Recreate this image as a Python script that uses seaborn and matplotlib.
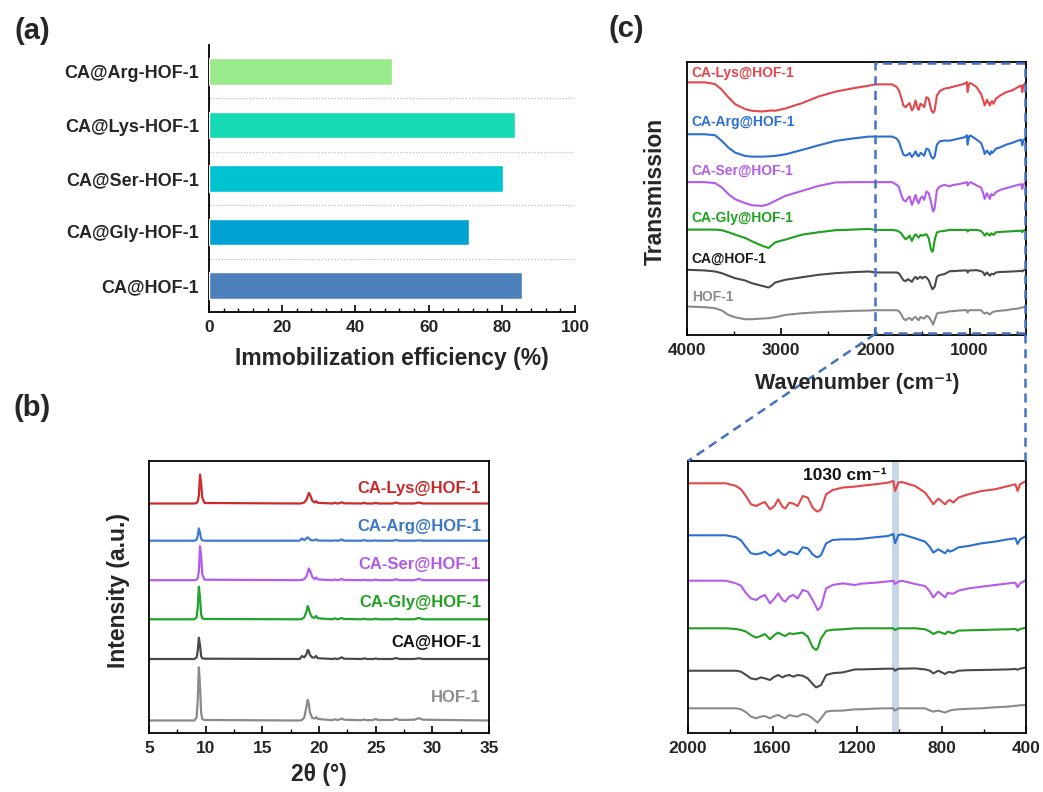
import numpy as np
import pandas as pd
import matplotlib
matplotlib.use("Agg")
import matplotlib.pyplot as plt
import seaborn as sns
from matplotlib.ticker import MultipleLocator, FixedLocator, NullLocator
from matplotlib.patches import Rectangle
from matplotlib.lines import Line2D

# ---------------- data: panel (a) ----------------
samples_a = ["CA@Arg-HOF-1", "CA@Lys-HOF-1", "CA@Ser-HOF-1", "CA@Gly-HOF-1", "CA@HOF-1"]
efficiency = [50.0, 83.5, 80.3, 71.0, 85.5]

# ---------------- data: panel (b) XRD ----------------
series_names = ["CA-Lys@HOF-1", "CA-Arg@HOF-1", "CA-Ser@HOF-1", "CA-Gly@HOF-1", "CA@HOF-1", "HOF-1"]
two_theta = [5, 9.0, 9.2, 9.3, 9.4, 9.5, 9.6, 9.7, 9.9,
             18.3, 18.5, 18.7, 18.9, 19.0, 19.1, 19.2, 19.4, 19.6, 19.75, 19.9,
             21.2, 21.4, 21.6, 21.8, 22.0, 22.2,
             23.8, 24.0, 24.2, 24.8, 25.0, 25.2, 26.5, 26.8, 27.1, 28.4, 28.8, 29.2, 35]
xrd_lys = [0, 0, 0.5, 2, 8, 29, 20, 6, 0.5,
           0, 0.3, 1, 4, 7, 10.5, 9, 3, 1, 2.3, 0.7,
           0, 0.8, 0, 0.3, 1.3, 0.2,
           0, 0.7, 0, 0, 0.7, 0, 0, 1, 0, 0, 1, 0, 0]
xrd_arg = [0, 0, 1, 5, 12.3, 8, 2, 0.5, 0,
           0, 2.3, 0.5, 2.5, 3.3, 2.5, 1, 0.3, 0.5, 1.3, 0.2,
           0, 0.3, 0, 0.2, 1.3, 0,
           0, 0.7, 0, 0, 0.3, 0, 0, 0.7, 0, 0, 0.3, 0, 0]
xrd_ser = [0, 0, 0.5, 2, 9, 34, 24, 6, 0.5,
           0, 0.3, 1, 4, 7.5, 11.7, 10, 3.5, 1, 2.7, 0.8,
           0, 0.7, 0, 0.3, 1.3, 0.2,
           0, 0.5, 0, 0, 0.7, 0, 0, 1, 0, 0, 1.3, 0, 0]
xrd_gly = [0, 0, 2, 12, 32.6, 22, 5, 1, 0.3,
           0, 0.3, 2, 8, 13.3, 11, 6, 2, 1.5, 3.3, 1,
           0, 1, 0, 0.5, 1.3, 0.3,
           0, 0.7, 0, 0, 0.7, 0, 0, 0.7, 0, 0, 1.3, 0, 0]
xrd_ca = [0, 0, 1.5, 8, 21.3, 14, 3, 0.7, 0.3,
          0, 3, 1.5, 5, 9, 8, 4, 1.5, 1.5, 3, 0.8,
          0, 0.5, 0, 0.5, 1.7, 0.3,
          0, 0.7, 0, 0, 0.5, 0, 0, 1, 0, 0, 0.7, 0, 0]
xrd_hof = [0, 0, 3, 20, 53.3, 35, 8, 1.5, 0.5,
           0, 0.5, 3, 14, 20.7, 17, 8, 2.5, 2, 3.3, 1.5,
           0.3, 1.3, 0.5, 1, 2, 0.8,
           0.3, 1, 0.3, 0.5, 1.7, 0.5, 0.5, 2, 0.5, 0.8, 2.3, 0.8, 0]

# ---------------- data: panel (c) FTIR ----------------
wavenumber = [4000, 3808, 3702, 3630, 3560, 3489, 3382, 3311, 3204, 3134, 3105, 3063, 2956, 2778, 2601, 2424, 2246, 2069,
              2000, 1915, 1820, 1773, 1749, 1725, 1702, 1678, 1655, 1636,
              1612, 1591, 1573, 1552, 1540, 1520, 1502, 1481, 1457, 1433,
              1410, 1394, 1386, 1370, 1346, 1315, 1268, 1209, 1181, 1115,
              1052, 1028, 1020, 1004, 988, 925, 878, 854, 839, 815,
              783, 770, 760, 744, 720, 673, 610, 547, 484, 450,
              440, 428, 400]
ftir_lys = [2, 2, 0.3, -5.3, -13, -19.7, -24.7, -26.3, -27, -26.3, -26, -26.3, -24, -18.7, -12, -7.3, -4, -1.3,
            0, 0, 0, -2.7, -6, -13, -21, -22.7, -20.3, -18.7,
            -26, -22.7, -16, -23.7, -25.3, -19.3, -20.3, -22.7, -12.7, -14.3,
            -24.3, -27.5, -28.3, -26, -11, -6.7, -4.3, -3.3, -2.5, -1,
            0.7, 2.3, -7.7, 0.7, 1.3, -2.7, -9.3, -16, -21, -15.3,
            -21, -17.7, -16.7, -19.3, -14.3, -11, -7.7, -6, -2.7, -1,
            -7.7, -1, 2.3]
ftir_arg = [2.3, 2.3, 1.3, -4.3, -11, -16, -19.3, -20, -20, -19.7, -19.5, -19.3, -17.7, -13.3, -8.7, -4.3, -2, 0,
            0, 0, 0, -2, -5, -12, -18, -19, -18, -16.3,
            -20.3, -18, -14.7, -19, -19.7, -16.3, -17.3, -19, -12, -13,
            -19, -21.5, -22, -19.7, -8, -4.7, -4, -4, -3.5, -2,
            -0.7, 1.3, -8, 0.3, 1, -3, -6.3, -12, -17.3, -14,
            -18, -14.7, -16.3, -15, -12, -10.7, -8, -6.3, -4, -3,
            -8.7, -4, -0.7]
ftir_ser = [0, 0, -1, -5.3, -12, -17, -21, -23, -23.7, -22, -20.5, -18.7, -13.7, -8.7, -3.7, -0.3, 0, 0,
            0, 0, 0, -2.7, -5, -12.7, -17.7, -19.3, -16, -14.3,
            -22.7, -17.7, -12.7, -19.3, -21, -16, -14.3, -17.7, -9.3, -11,
            -19.3, -26, -29.3, -26, -7.7, -4.3, -2.7, -4.3, -3, -2,
            -0.7, 0, -3.3, -1, 0, -3.3, -5.3, -11, -16.7, -11,
            -16.7, -12, -12.7, -13, -10, -7.7, -6, -4.3, -2.7, -2,
            -6.7, -2.7, 0.7]
ftir_gly = [0.3, 0.3, 0.3, -0.3, -2.3, -4.7, -8, -11.3, -15.7, -18, -15.7, -12.3, -9.7, -4.7, -2.3, -0.3, 0.3, 1,
            0, 0, 0, -0.7, -1.7, -3.3, -6.7, -9.3, -7.7, -5.7,
            -11, -6.7, -4.3, -6.7, -7.7, -5, -5.7, -5, -4.3, -8.3,
            -19, -21.7, -20, -10, -2.5, -1.5, -1, 0, 0, 0,
            0, 0, -1.7, 0, 0, 0, -1, -3.3, -5.7, -3.3,
            -5.7, -3.3, -4, -5, -2.3, -2, -1.7, -1.3, -1, -0.7,
            -2.3, -0.7, 0.7]
ftir_ca = [2.7, 2, 1, -0.7, -3.3, -5.7, -8, -10.7, -13.3, -15, -13.3, -10, -7.3, -4.7, -2.3, -0.7, 0.3, 1,
           0, 0, 0, 0, -1, -4.3, -7.7, -8.7, -6.7, -7.7,
           -9.3, -6, -4.3, -6.7, -5.3, -4.3, -6, -4.3, -5, -7.7,
           -13.3, -16.7, -16, -14.3, -4.3, -2.5, -1.7, 1.3, 1.3, 1.7,
           2, 2, 0, 2, 2, 2.3, 1.3, 0, -2.7, 0,
           -3.3, -1.5, -1.3, -2, 0, 0.5, 0.7, 1, 1.3, 1.7,
           1, 2, 3.3]
ftir_hof = [3.7, 3, 2, -0.3, -4.7, -7, -9, -9, -8.3, -8, -7.5, -7, -4.7, -3, -2, -1.3, -0.7, -0.3,
            0, 0, 0, 0, -1, -4, -8.3, -10, -8.3, -7.7,
            -10, -7.7, -6.7, -9, -10, -6.7, -7.7, -8.3, -5.7, -6.7,
            -10, -13, -14.3, -10, -3.3, -2.5, -2.3, -1, -1, -0.3,
            0, 0, -2.3, 0, 0, 0, 0, -2.3, -3.3, -2.3,
            -4.3, -3, -2.3, -1.5, -1, -0.5, 0, 1, 1.7, 2.5,
            2.7, 3, 3.3]
band_lo, band_hi = 1001, 1035
band_label = "1030 cm\u207b\u00b9"

# ---------------- styling ----------------
sns.set_theme(style="white")
plt.rcParams["font.family"] = ["Liberation Sans", "DejaVu Sans"]
plt.rcParams["font.weight"] = "bold"
plt.rcParams["axes.labelweight"] = "bold"

bar_colors = ["#98EA8A", "#16DAB4", "#00C3D2", "#00A3D3", "#4E80BD"]
xrd_colors = ["#CC2B2B", "#3F7BD0", "#B45CEC", "#22A32A", "#4A4A4A", "#8A8A8A"]
xrd_label_colors = ["#C82A2A", "#3A78C8", "#B45AE8", "#22A022", "#111111", "#8C8C8C"]
ir_colors = ["#E2474B", "#2C6FD1", "#B45CEA", "#1EA01E", "#4A4A4A", "#8A8A8A"]
ir_label_colors = ["#E0474C", "#2C6FD1", "#B45CEA", "#1EA01E", "#1A1A1A", "#8C8C8C"]
xrd_offsets = [229.5, 192.3, 152.8, 113.7, 74.0, 12.5]
ir_offsets = [249.7, 197.7, 152.3, 104.7, 62.3, 24.7]
xrd_label_y = [245, 206, 168, 130, 91, 35]
ir_label_y = [261, 212, 164, 117, 76, 38]
dash_blue = "#4472C4"

W, H = 1043, 792
fig = plt.figure(figsize=(W / 100, H / 100), dpi=100)


def px_axes(l, t, r, b):
    return fig.add_axes([l / W, 1 - b / H, (r - l) / W, (b - t) / H])


def fig_xy(x, y):
    return x / W, 1 - y / H


TICK_FS = 12.5
LABEL_FS = 16.5

# ---------------- panel (a) ----------------
axA = px_axes(209, 45, 575, 312)
sns.barplot(x=efficiency, y=samples_a, hue=samples_a, palette=bar_colors, legend=False,
            orient="h", width=0.5, saturation=1, ax=axA, zorder=3)
axA.set_xlim(0, 100)
axA.set_ylim(4.5, -0.5)
axA.set_xlabel("")
axA.set_ylabel("")
axA.xaxis.set_major_locator(MultipleLocator(20))
axA.xaxis.set_minor_locator(MultipleLocator(4))
axA.yaxis.set_minor_locator(FixedLocator([0.5, 1.5, 2.5, 3.5]))
axA.grid(False)
axA.grid(axis="y", which="minor", ls=(0, (1, 1.5)), color="#BFBFBF", lw=0.9)
axA.set_axisbelow(True)
for s in ["top", "right"]:
    axA.spines[s].set_visible(False)
for s in ["left", "bottom"]:
    axA.spines[s].set_color("black")
    axA.spines[s].set_linewidth(1.3)
axA.tick_params(axis="x", which="major", direction="in", length=5, width=1.2, color="black",
                labelsize=TICK_FS, pad=6, bottom=True)
axA.tick_params(axis="x", which="minor", direction="in", length=3, width=1.0, color="black", bottom=True)
axA.tick_params(axis="y", which="both", length=0, labelsize=13, pad=7)
for lab in axA.get_xticklabels() + axA.get_yticklabels():
    lab.set_fontweight("bold")
fig.text(*fig_xy(392, 358), "Immobilization efficiency (%)", ha="center", va="center",
         fontsize=LABEL_FS, fontweight="bold")

# ---------------- panel (b) ----------------
axB = px_axes(149, 461, 489, 733)
xrd_series = [xrd_lys, xrd_arg, xrd_ser, xrd_gly, xrd_ca, xrd_hof]
for vals, off, col in zip(xrd_series, xrd_offsets, xrd_colors):
    sns.lineplot(x=two_theta, y=np.asarray(vals) + off, color=col, lw=1.6, ax=axB, estimator=None)
for name, ly, col in zip(series_names, xrd_label_y, xrd_label_colors):
    axB.text(34.3, ly, name, ha="right", va="center", color=col, fontsize=12, fontweight="bold")
axB.set_xlim(5, 35)
axB.set_ylim(0, 272)
axB.xaxis.set_major_locator(MultipleLocator(5))
axB.xaxis.set_minor_locator(MultipleLocator(2.5))
axB.yaxis.set_major_locator(NullLocator())
axB.grid(False)
for s in axB.spines.values():
    s.set_color("black")
    s.set_linewidth(1.3)
axB.tick_params(axis="x", which="major", direction="in", length=5, width=1.2, labelsize=TICK_FS, pad=6,
                bottom=True, color="black")
axB.tick_params(axis="x", which="minor", direction="in", length=3, width=1.0, bottom=True, color="black")
for lab in axB.get_xticklabels():
    lab.set_fontweight("bold")
fig.text(*fig_xy(319, 775), "2\u03b8 (\u00b0)", ha="center", va="center", fontsize=LABEL_FS, fontweight="bold")
fig.text(*fig_xy(119, 590), "Intensity (a.u.)", ha="center", va="center", rotation=90,
         fontsize=LABEL_FS, fontweight="bold")

# ---------------- panel (c) top ----------------
ftir_series = [ftir_lys, ftir_arg, ftir_ser, ftir_gly, ftir_ca, ftir_hof]
axC = px_axes(687, 62, 1026, 335)
axD = px_axes(688, 461, 1026, 733)
for ax in (axC, axD):
    for vals, off, col in zip(ftir_series, ir_offsets, ir_colors):
        sns.lineplot(x=wavenumber, y=np.asarray(vals) + off, color=col, lw=1.5, ax=ax, estimator=None)
    ax.set_ylim(0, 272)
    ax.yaxis.set_major_locator(NullLocator())
    ax.grid(False)
    for s in ax.spines.values():
        s.set_color("black")
        s.set_linewidth(1.3)
    ax.tick_params(axis="x", which="major", direction="in", length=5, width=1.2, labelsize=TICK_FS, pad=6,
                   bottom=True, color="black")
    ax.tick_params(axis="x", which="minor", direction="in", length=3, width=1.0, bottom=True, color="black")

axC.set_xlim(4000, 400)
axC.xaxis.set_major_locator(FixedLocator([4000, 3000, 2000, 1000]))
axC.xaxis.set_minor_locator(FixedLocator([3500, 2500, 1500, 500]))
for name, ly, col in zip(series_names, ir_label_y, ir_label_colors):
    axC.text(3950, ly, name, ha="left", va="center", color=col, fontsize=10, fontweight="bold")
axC.add_patch(Rectangle((407, 1.5), 2000 - 407, 269.5, fill=False, ec=dash_blue, lw=1.8,
                        ls=(0, (3.6, 2.3)), clip_on=False, zorder=5))
for lab in axC.get_xticklabels():
    lab.set_fontweight("bold")
fig.text(*fig_xy(857, 384), "Wavenumber (cm\u207b\u00b9)", ha="center", va="center",
         fontsize=15.5, fontweight="bold")
fig.text(*fig_xy(655, 191), "Transmission", ha="center", va="center", rotation=90,
         fontsize=LABEL_FS, fontweight="bold")

# ---------------- panel (c) zoom ----------------
axD.set_xlim(2000, 400)
axD.xaxis.set_major_locator(FixedLocator([2000, 1600, 1200, 800, 400]))
axD.xaxis.set_minor_locator(FixedLocator([1800, 1400, 1000, 600]))
axD.axvspan(band_lo, band_hi, color="#C8D7E6", zorder=0, lw=0)
axD.text(1058, 258, band_label, ha="right", va="center", fontsize=12.5, fontweight="bold", color="#111111")
for lab in axD.get_xticklabels():
    lab.set_fontweight("bold")

# connector lines
for (x0, y0), (x1, y1) in [((875, 334), (688, 461)), ((1025, 334), (1025, 461))]:
    a, b = fig_xy(x0, y0)
    c, d = fig_xy(x1, y1)
    fig.add_artist(Line2D([a, c], [b, d], transform=fig.transFigure, color=dash_blue, lw=1.8,
                          ls=(0, (3.6, 2.3))))

# panel letters
fig.text(*fig_xy(32, 31), "(a)", ha="center", va="center", fontsize=21, fontweight="bold")
fig.text(*fig_xy(32, 408), "(b)", ha="center", va="center", fontsize=21, fontweight="bold")
fig.text(*fig_xy(626, 29), "(c)", ha="center", va="center", fontsize=21, fontweight="bold")

fig.savefig("out.png", dpi=100, facecolor="white")
